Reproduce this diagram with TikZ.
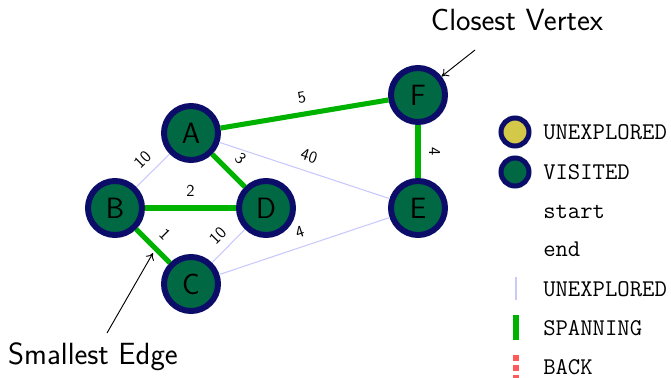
\documentclass[tikz,border=0pt]{standalone}
\usepackage{fontspec}
\usetikzlibrary{arrows.meta}

\definecolor{navy}{RGB}{12,12,105}
\definecolor{visitfill}{RGB}{0,105,68}
\definecolor{unexfill}{RGB}{212,200,72}
\definecolor{spangreen}{RGB}{0,178,0}
\definecolor{lavender}{RGB}{200,200,255}
\definecolor{backred}{RGB}{255,90,90}

\tikzset{
  vertex/.style={circle, draw=navy, line width=4.5pt, fill=visitfill,
    minimum size=40.5pt, inner sep=0pt, font=\sffamily\fontsize{22}{22}\selectfont},
  legvertex/.style={circle, draw=navy, line width=3.75pt,
    minimum size=21pt, inner sep=0pt},
  unexedge/.style={draw=lavender, line width=0.8pt},
  spanedge/.style={draw=spangreen, line width=3.8pt},
  backedge/.style={draw=backred, line width=3.8pt, dash pattern=on 4.5pt off 3pt},
  wlabel/.style={midway, sloped, above=5.5pt, inner sep=1pt,
    font=\sffamily\fontsize{12.5}{12.5}\selectfont},
  legtext/.style={anchor=west, inner sep=0pt, font=\ttfamily\fontsize{18}{18}\selectfont},
  note/.style={inner sep=0pt, font=\sffamily\fontsize{23}{23}\selectfont},
  pointer/.style={-{To[length=5pt,width=7pt]}, line width=0.7pt}
}

\begin{document}
\begin{tikzpicture}[x=0.75pt, y=-0.75pt]
  \useasboundingbox (0,0) rectangle (671,378);

  % vertices
  \node[vertex] (A) at (191,133) {A};
  \node[vertex] (B) at (115,208) {B};
  \node[vertex] (D) at (266,208) {D};
  \node[vertex] (C) at (191,284) {C};
  \node[vertex] (F) at (418,95) {F};
  \node[vertex] (E) at (418,208) {E};

  % edges
  \draw[unexedge] (A) -- (B) node[wlabel] {10};
  \draw[unexedge] (A) -- (E) node[wlabel] {40};
  \draw[unexedge] (C) -- (D) node[wlabel] {10};
  \draw[unexedge] (C) -- (E) node[wlabel] {4};
  \draw[spanedge] (A) -- (F) node[wlabel] {5};
  \draw[spanedge] (A) -- (D) node[wlabel] {3};
  \draw[spanedge] (B) -- (D) node[wlabel] {2};
  \draw[spanedge] (B) -- (C) node[wlabel] {1};
  \draw[spanedge] (F) -- (E) node[wlabel] {4};

  % annotations
  \node[note] (cv) at (517,20) {Closest Vertex};
  \coordinate (cvtail) at (475,50);
  \draw[pointer] (cvtail) -- (F);

  \node[note] (se) at (93,357) {Smallest Edge};
  \coordinate (setail) at (107,333);
  \coordinate (setip) at (153,253);
  \draw[pointer] (setail) -- (setip);

  % legend
  \node[legvertex, fill=unexfill] (lu) at (515,132) {};
  \node[legvertex, fill=visitfill] (lv) at (515,172) {};
  \node[legtext] (tu) at (543,132) {UNEXPLORED};
  \node[legtext] (tv) at (543,172) {VISITED};
  \node[legtext] (ts) at (543,212) {start};
  \node[legtext] (te) at (543,249) {end};
  \node[legtext] (tue) at (543,289) {UNEXPLORED};
  \node[legtext] (tsp) at (543,328) {SPANNING};
  \node[legtext] (tb) at (543,367) {BACK};

  \coordinate (lua) at (516,277);
  \coordinate (lub) at (516,300);
  \draw[unexedge] (lua) -- (lub);
  \coordinate (lsa) at (516,315);
  \coordinate (lsb) at (516,340);
  \draw[spanedge] (lsa) -- (lsb);
  \coordinate (lba) at (516,355);
  \coordinate (lbb) at (516,380);
  \draw[backedge] (lba) -- (lbb);
\end{tikzpicture}
\end{document}
